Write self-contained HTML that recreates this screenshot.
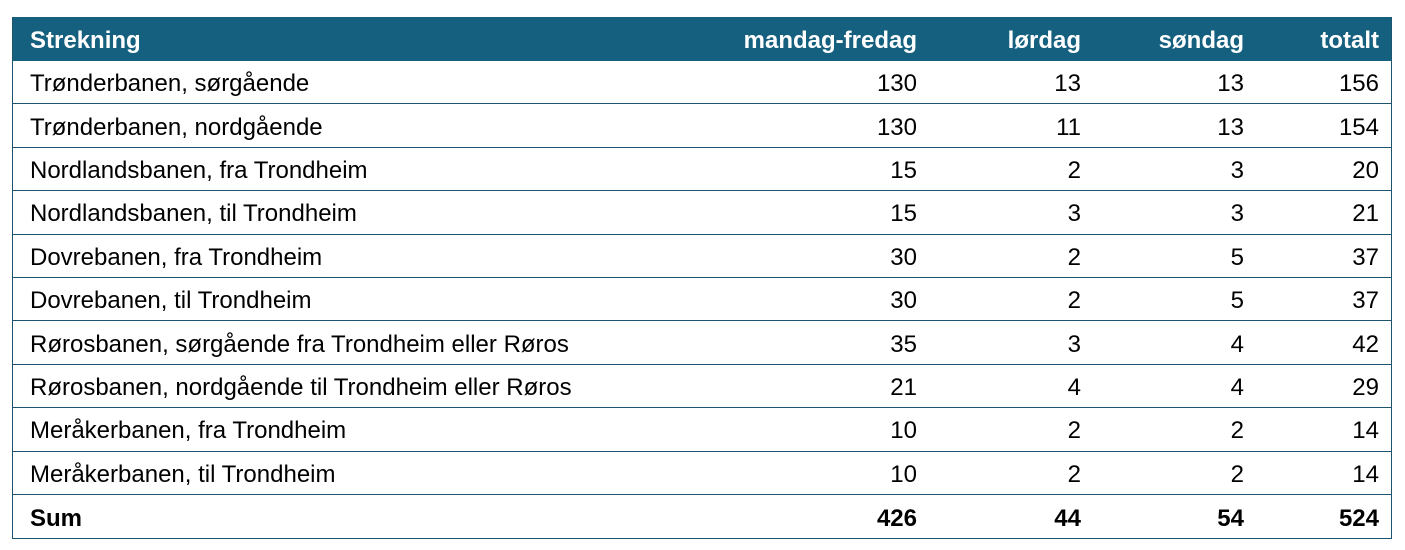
<!DOCTYPE html>
<html><head><meta charset="utf-8"><style>
body{margin:0;width:1405px;height:550px;background:#fff;position:relative;overflow:hidden;font-family:"Liberation Sans",sans-serif;}
#tbl{position:absolute;left:12px;top:17px;width:1378px;height:521px;border:1px solid #1f5470;border-top:none;box-sizing:content-box;}
.row{position:absolute;left:0;width:1378px;height:43.4px;border-bottom:1px solid #1f5470;box-sizing:border-box;}
.hdr{background:#16607f;color:#fff;font-weight:bold;border-bottom:none;height:44px;}
.c{position:absolute;top:0;height:100%;display:flex;align-items:center;font-size:24px;white-space:nowrap;padding-top:4px;box-sizing:border-box;}
.c0{left:17px;}
.c1{right:474px;}.c2{right:310px;}.c3{right:147px;}.c4{right:12px;}
.sum{font-weight:bold;border-bottom:none;}
</style></head><body>
<div id="tbl"></div>
<script>
const routes=["Trønderbanen, sørgående","Trønderbanen, nordgående","Nordlandsbanen, fra Trondheim","Nordlandsbanen, til Trondheim","Dovrebanen, fra Trondheim","Dovrebanen, til Trondheim","Rørosbanen, sørgående fra Trondheim eller Røros","Rørosbanen, nordgående til Trondheim eller Røros","Meråkerbanen, fra Trondheim","Meråkerbanen, til Trondheim"];
const weekdays=[130,130,15,15,30,30,35,21,10,10];
const saturday=[13,11,2,3,2,2,3,4,2,2];
const sunday=[13,13,3,3,5,5,4,4,2,2];
const totals=[156,154,20,21,37,37,42,29,14,14];
const headers=["Strekning","mandag-fredag","lørdag","søndag","totalt"];
const sums=["Sum",426,44,54,524];
const tbl=document.getElementById('tbl');
function addRow(cells,cls,top,name){
  const r=document.createElement('div');
  r.className='row '+cls;
  r.style.top=top+'px';
  
  
  cells.forEach((v,i)=>{
    const c=document.createElement('div');
    c.className='c c'+i;
    c.textContent=v;
    
    
    r.appendChild(c);
  });
  tbl.appendChild(r);
}
addRow(headers,'hdr',0,'header-row');
routes.forEach((n,i)=>addRow([n,weekdays[i],saturday[i],sunday[i],totals[i]],'',44+i*43.4,'route-row-'+(i+1)));
addRow(sums,'sum',44+10*43.4,'sum-row');
</script>
</body></html>
